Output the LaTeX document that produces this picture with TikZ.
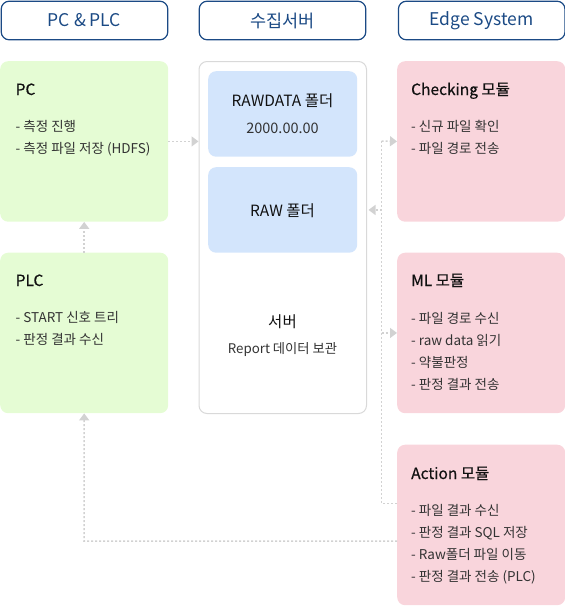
\documentclass[tikz,border=0pt]{standalone}
\usepackage{fontspec}
\setmainfont{Noto Sans CJK KR}
\newfontfamily\krmed[FakeBold=0.5]{Noto Sans CJK KR}
\usetikzlibrary{arrows.meta}
\definecolor{hdrblue}{HTML}{1B4A85}
\definecolor{pcgreen}{HTML}{E5FCD4}
\definecolor{edgepink}{HTML}{F9D5DC}
\definecolor{folderblue}{HTML}{D3E5FC}
\definecolor{srvgray}{HTML}{D9D9D9}
\definecolor{linkgray}{HTML}{D2D2D2}
\definecolor{itemgray}{HTML}{333333}
\definecolor{titleblack}{HTML}{111111}
\begin{document}
\begin{tikzpicture}[x=1pt,y=-1pt,
  box/.style={rectangle, rounded corners=8pt, inner sep=0pt, anchor=north west},
  hdr/.style={box, draw=hdrblue, line width=1.2pt, fill=white, text=hdrblue,
    minimum width=166.6pt, minimum height=38.6pt, font=\fontsize{17.5}{20}\selectfont},
  pcbox/.style={box, fill=pcgreen, minimum width=168pt, minimum height=160.5pt},
  edgebox/.style={box, fill=edgepink, minimum width=168pt, minimum height=160.5pt},
  folder/.style={box, fill=folderblue, minimum width=149pt, minimum height=85.5pt},
  title/.style={anchor=base west, inner sep=0pt, text=titleblack, font=\krmed\fontsize{15.5}{18}\selectfont},
  item/.style={anchor=base west, inner sep=0pt, text=itemgray, font=\fontsize{13.5}{16}\selectfont},
  ctitle/.style={inner sep=0pt, text=titleblack, font=\fontsize{15.5}{18}\selectfont},
  citem/.style={inner sep=0pt, text=itemgray, font=\fontsize{13.3}{16}\selectfont},
  cdate/.style={inner sep=0pt, text=itemgray, font=\fontsize{14.5}{17}\selectfont},
  link/.style={draw=linkgray, line width=1.5pt, dash pattern=on 2pt off 2pt},
  tip/.style={-{Triangle[length=7pt,width=10pt,fill=linkgray,color=linkgray]}}
]
\useasboundingbox (0,0) rectangle (565,606);

% headers
\node[hdr] (hdrA) at (0.6,0.6) {PC \& PLC};
\node[hdr] (hdrB) at (198.6,0.6) {수집서버};
\node[hdr] (hdrC) at (397.8,0.6) {Edge System};

% PC & PLC column
\node[pcbox] (pc) at (0,61) {};
\node[pcbox] (plc) at (0,252.5) {};
% server column
\node[box, draw=srvgray, line width=1pt, fill=white, minimum width=167.5pt, minimum height=352pt] (server) at (198.5,61) {};
\node[folder] (rawdata) at (208,71) {};
\node[folder] (raw) at (208,167) {};
% edge column
\node[edgebox] (check) at (397,61) {};
\node[edgebox] (ml) at (397,252.5) {};
\node[edgebox] (action) at (397,444.5) {};

% PC texts
\node[title] (pcT) at (15.5,95) {PC};
\node[item] (pcI1) at (15.5,131.5) {- 측정 진행};
\node[item] (pcI2) at (15.5,153.5) {- 측정 파일 저장 (HDFS)};
% PLC texts
\node[title] (plcT) at (15.5,286) {PLC};
\node[item] (plcI1) at (15.5,322.5) {- START 신호 트리};
\node[item] (plcI2) at (15.5,344.5) {- 판정 결과 수신};

% server texts
\node[ctitle] (rawdataT) at (282.5,101) {RAWDATA 폴더};
\node[cdate] (rawdataD) at (282.5,128) {2000.00.00};
\node[ctitle] (rawT) at (282.5,211) {RAW 폴더};
\node[ctitle] (srvT) at (282.5,322) {서버};
\node[citem] (srvD) at (282.5,349.5) {Report 데이터 보관};

% Checking texts
\node[title] (chkT) at (411,95) {Checking 모듈};
\node[item] (chkI1) at (411,131.5) {- 신규 파일 확인};
\node[item] (chkI2) at (411,153.5) {- 파일 경로 전송};
% ML texts
\node[title] (mlT) at (411,286) {ML 모듈};
\node[item] (mlI1) at (411,323) {- 파일 경로 수신};
\node[item] (mlI2) at (411,345) {- raw data 읽기};
\node[item] (mlI3) at (411,367) {- 약불판정};
\node[item] (mlI4) at (411,389) {- 판정 결과 전송};
% Action texts
\node[title] (actT) at (411,479) {Action 모듈};
\node[item] (actI1) at (411,515) {- 파일 결과 수신};
\node[item] (actI2) at (411,537) {- 판정 결과 SQL 저장};
\node[item] (actI3) at (411,559) {- Raw폴더 파일 이동};
\node[item] (actI4) at (411,581) {- 판정 결과 전송 (PLC)};

% connectors
\coordinate (busTop) at (381.7,141);
\coordinate (busBot) at (381.7,503.5);
\coordinate (plcCorner) at (84,541);

\draw[link,tip] (pc.east) -- (pc.east -| server.west);
\draw[link,tip] (plc.north) -- (pc.south);
\draw[link,tip] (action.west |- plcCorner) -- (plcCorner) -- (plc.south);
\draw[link] (action.west |- busBot) -- (busBot) -- (busTop);
\draw[link,tip] (busTop) -- (check.west);
\draw[link,tip,shorten >=1.5pt] (busTop |- raw.east) -- (server.east |- raw.east);
\draw[link,tip] (busTop |- ml.west) -- (ml.west);
\end{tikzpicture}
\end{document}
